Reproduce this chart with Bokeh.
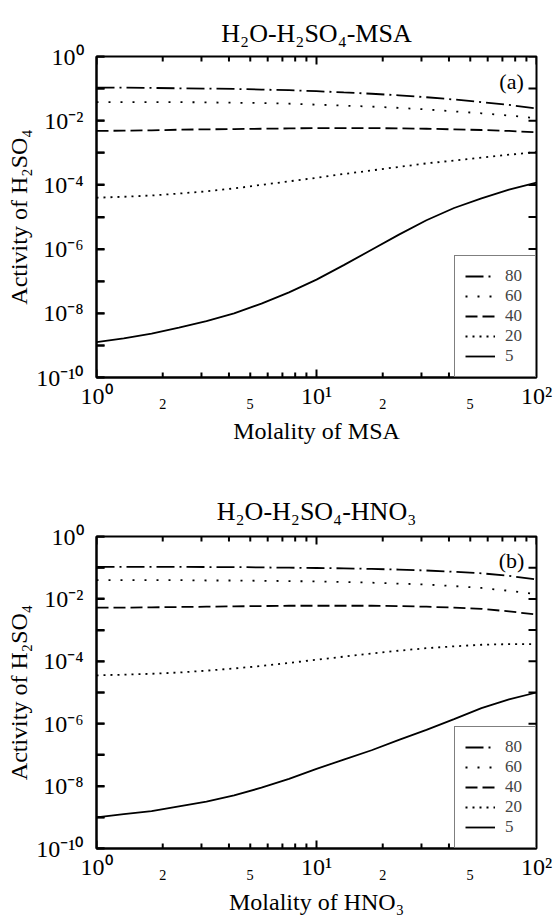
from bokeh.plotting import figure
from bokeh.models import FixedTicker, Legend, LegendItem, Label, Range1d
from bokeh.layouts import column
from bokeh.embed import file_html
from bokeh.resources import INLINE

# ---------------- data ----------------
molality = [1.0, 1.33, 1.78, 2.37, 3.16, 4.22, 5.62, 7.50, 10.0,
            13.3, 17.8, 23.7, 31.6, 42.2, 56.2, 75.0, 100.0]
series_names = ["80", "60", "40", "20", "5"]

msa_80 = [0.107, 0.107, 0.105, 0.102, 0.100, 0.0977, 0.0933, 0.0891, 0.0832,
          0.0759, 0.0692, 0.0617, 0.0537, 0.0457, 0.0380, 0.0309, 0.0240]
msa_60 = [0.0380, 0.0380, 0.0380, 0.0380, 0.0372, 0.0363, 0.0355, 0.0339, 0.0316,
          0.0295, 0.0275, 0.0251, 0.0224, 0.0195, 0.0170, 0.0145, 0.0120]
msa_40 = [4.79e-3, 4.90e-3, 5.01e-3, 5.25e-3, 5.37e-3, 5.50e-3, 5.62e-3, 5.75e-3, 5.89e-3,
          5.89e-3, 5.89e-3, 5.75e-3, 5.62e-3, 5.37e-3, 5.13e-3, 4.79e-3, 4.37e-3]
msa_20 = [3.98e-5, 4.27e-5, 4.68e-5, 5.37e-5, 6.31e-5, 7.76e-5, 1.00e-4, 1.29e-4, 1.66e-4,
          2.19e-4, 2.82e-4, 3.63e-4, 4.68e-4, 5.75e-4, 7.08e-4, 8.71e-4, 1.05e-3]
msa_5 = [1.26e-9, 1.66e-9, 2.34e-9, 3.55e-9, 5.75e-9, 1.00e-8, 2.00e-8, 4.47e-8, 1.12e-7,
         3.16e-7, 9.55e-7, 2.82e-6, 7.94e-6, 1.91e-5, 3.80e-5, 7.08e-5, 1.17e-4]

hno3_80 = [0.107, 0.107, 0.107, 0.107, 0.105, 0.105, 0.102, 0.100, 0.0977,
           0.0955, 0.0912, 0.0871, 0.0813, 0.0741, 0.0661, 0.0550, 0.0417]
hno3_60 = [0.0398, 0.0398, 0.0398, 0.0398, 0.0389, 0.0389, 0.0380, 0.0372, 0.0363,
           0.0347, 0.0331, 0.0309, 0.0288, 0.0257, 0.0224, 0.0182, 0.0141]
hno3_40 = [5.25e-3, 5.25e-3, 5.37e-3, 5.50e-3, 5.62e-3, 5.75e-3, 5.89e-3, 6.03e-3, 6.03e-3,
           6.03e-3, 6.03e-3, 5.89e-3, 5.62e-3, 5.25e-3, 4.79e-3, 3.98e-3, 3.16e-3]
hno3_20 = [3.55e-5, 3.72e-5, 3.98e-5, 4.37e-5, 5.01e-5, 5.89e-5, 7.08e-5, 8.91e-5, 1.12e-4,
           1.41e-4, 1.78e-4, 2.19e-4, 2.63e-4, 3.02e-4, 3.39e-4, 3.55e-4, 3.55e-4]
hno3_5 = [1.00e-9, 1.26e-9, 1.58e-9, 2.24e-9, 3.16e-9, 5.01e-9, 8.91e-9, 1.70e-8, 3.55e-8,
          7.08e-8, 1.41e-7, 3.02e-7, 6.31e-7, 1.41e-6, 3.16e-6, 6.03e-6, 1.00e-5]

x_major = [1, 10, 100]
x_minor = [2, 3, 4, 5, 6, 7, 8, 9, 20, 30, 40, 50, 60, 70, 80, 90]
x_label_ticks = [1, 2, 5, 10, 20, 50, 100]
x_tick_labels = ["10⁰", "₂", "₅", "10¹", "₂", "₅", "10²"]
y_decades = [1e-10, 1e-9, 1e-8, 1e-7, 1e-6, 1e-5, 1e-4, 1e-3, 1e-2, 1e-1, 1.0]
y_label_ticks = [1e-10, 1e-8, 1e-6, 1e-4, 1e-2, 1.0]
y_odd_decades = [1e-9, 1e-7, 1e-5, 1e-3, 1e-1]
y_tick_labels = ["10⁻¹⁰", "10⁻⁸", "10⁻⁶", "10⁻⁴", "10⁻²", "10⁰"]

FONT = "Liberation Serif"
dashes = ["18 5 2 5", "2 10", "12 5", "2 5", "solid"]
FIG_W = 557
BORDER_L = 96
BORDER_R = 21
NAN = float("nan")


def tick_path(positions, fixed_a, fixed_b, horizontal):
    """NaN-separated polyline of short ticks: each tick runs from fixed_a to fixed_b."""
    xs, ys = [], []
    for v in positions:
        if horizontal:
            xs += [fixed_a, fixed_b, NAN]
            ys += [v, v, NAN]
        else:
            xs += [v, v, NAN]
            ys += [fixed_a, fixed_b, NAN]
    return xs, ys


def make_panel(title, xlabel, ys, tag, height, top, bottom, title_gap):
    xr = Range1d(1, 100)
    yr = Range1d(1e-10, 1)
    p = figure(width=FIG_W, height=height, x_axis_type="log", y_axis_type="log",
               x_range=xr, y_range=yr,
               output_backend="svg", toolbar_location=None, title=title,
               min_border_left=BORDER_L, min_border_right=BORDER_R,
               min_border_top=top, min_border_bottom=bottom)
    p.grid.visible = False
    p.outline_line_color = "black"
    p.outline_line_width = 2

    p.title.text_font = FONT
    p.title.text_font_size = "26px"
    p.title.text_font_style = "normal"
    p.title.align = "center"
    p.title.text_color = "black"
    p.title.standoff = title_gap

    xa = p.xaxis[0]
    xa.ticker = FixedTicker(ticks=x_label_ticks, minor_ticks=[])
    xa.major_label_overrides = dict(zip(x_label_ticks, x_tick_labels))
    xa.axis_label = xlabel
    xa.major_label_standoff = 5
    xa.axis_label_standoff = 6
    ya = p.yaxis[0]
    ya.ticker = FixedTicker(ticks=y_label_ticks, minor_ticks=y_odd_decades)
    ya.major_label_overrides = dict(zip(y_label_ticks, y_tick_labels))
    ya.axis_label = "Activity of H₂SO₄"
    ya.major_label_standoff = 13
    ya.axis_label_standoff = 1

    for ax in (xa, ya):
        ax.major_label_text_font = FONT
        ax.major_label_text_font_size = "24px"
        ax.major_label_text_color = "black"
        ax.axis_label_text_font = FONT
        ax.axis_label_text_font_size = "24px"
        ax.axis_label_text_font_style = "normal"
        ax.axis_label_text_color = "black"
        ax.axis_line_color = "black"
        ax.axis_line_width = 2
        ax.major_tick_out = 0
        ax.minor_tick_out = 0
        ax.major_tick_line_width = 2
        ax.minor_tick_line_width = 2
        ax.major_tick_line_color = "black"
        ax.minor_tick_line_color = "black"
    xa.major_tick_in = 0
    xa.minor_tick_in = 0
    ya.major_tick_in = 8
    ya.minor_tick_in = 8

    # inward ticks on all four sides, drawn as short strokes from the frame edge
    frame_w = FIG_W - BORDER_L - BORDER_R
    frame_h = height - top - bottom
    fx_major = 10 ** (8 / (frame_w / 2.0))
    fy_major = 10 ** (8 / (frame_h / 10.0))
    fy_minor = 10 ** (5 / (frame_h / 10.0))
    paths = [
        tick_path(y_decades, xr.start, xr.start * fx_major, True),
        tick_path(y_decades, xr.end, xr.end / fx_major, True),
        tick_path(x_major, yr.start, yr.start * fy_major, False),
        tick_path(x_major, yr.end, yr.end / fy_major, False),
        tick_path(x_minor, yr.start, yr.start * fy_minor, False),
        tick_path(x_minor, yr.end, yr.end / fy_minor, False),
    ]
    for tx, ty in paths:
        p.line(tx, ty, line_color="black", line_width=2)

    items = []
    for name, y, dash in zip(series_names, ys, dashes):
        r = p.line(molality, y, line_color="black", line_width=1.8, line_dash=dash)
        items.append(LegendItem(label=name, renderers=[r]))

    legend = Legend(items=items, location="bottom_right", margin=0, padding=10,
                    spacing=0, glyph_width=30, glyph_height=20, label_height=20,
                    label_standoff=10, label_text_font=FONT, label_text_font_size="17px",
                    border_line_color="black", border_line_width=1.5,
                    background_fill_color="white", background_fill_alpha=1.0)
    p.add_layout(legend)

    p.add_layout(Label(x=77, y=10 ** -0.78, text=tag, text_align="center",
                       text_baseline="middle", text_font=FONT, text_font_size="22px",
                       text_color="black"))
    return p


p1 = make_panel("H₂O-H₂SO₄-MSA", "Molality of MSA",
                [msa_80, msa_60, msa_40, msa_20, msa_5], "(a)", 460, 56, 83, 18)
p2 = make_panel("H₂O-H₂SO₄-HNO₃", "Molality of HNO₃",
                [hno3_80, hno3_60, hno3_40, hno3_20, hno3_5], "(b)", 457, 76, 65, 22)

layout = column(p1, p2, spacing=0)
open("out.html", "w").write(file_html(layout, INLINE))
